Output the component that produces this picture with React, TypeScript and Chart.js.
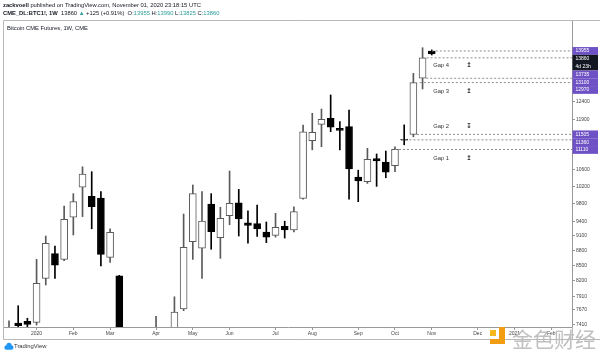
import React, { useEffect, useRef } from 'react';
import { Chart, registerables } from 'chart.js';

Chart.register(...registerables);

// Weekly candles, week of 2019-12-16 (index 0) to week of 2020-11-02 (index 46)
const OPEN = [
  7150, 7434, 7463, 7446, 8243, 8728, 8614, 9496, 10180, 9968,
  9930, 8655, 8290, 5300, 6150, 6000, 6880, 7000, 7150, 7680,
  8974, 8838, 9793, 9060, 9530, 9820, 9375, 9357, 9178, 9105,
  9300, 9222, 9922, 11340, 11772, 11937, 11665, 11713, 10420, 10310,
  10880, 10792, 10700, 11360, 11505, 13100, 13955,
];
const HIGH = [
  7470, 7738, 7517, 8614, 9093, 8885, 9747, 10030, 10673, 10552,
  10075, 9246, 8300, 6900, 6900, 7200, 7550, 7300, 7900, 9567,
  10233, 10075, 10030, 9718, 10568, 10130, 9636, 9770, 9393, 9583,
  9410, 9731, 11755, 12080, 12200, 12603, 11848, 12172, 10590, 11140,
  10995, 11070, 11180, 11760, 13250, 14060, 13990,
];
const LOW = [
  6500, 7300, 7200, 7400, 8118, 8243, 8586, 9114, 9510, 9246,
  8486, 8554, 4000, 4500, 5800, 5900, 6700, 6500, 7000, 7650,
  8614, 8243, 8818, 8634, 9333, 9093, 8941, 9082, 8955, 9070,
  9050, 9180, 9900, 11100, 11180, 11578, 11100, 9905, 9845, 10270,
  10200, 10405, 10552, 11230, 11440, 12780, 13825,
];
const CLOSE = [
  7250, 7388, 7412, 8150, 8941, 8497, 9452, 9845, 10496, 9731,
  8716, 9172, 5350, 6150, 6000, 6850, 6950, 7100, 7625, 8860,
  10030, 9415, 9186, 9474, 9810, 9460, 9320, 9243, 9070, 9280,
  9222, 9620, 11575, 11560, 11910, 11695, 11613, 10620, 10330, 10860,
  10820, 10538, 11110, 11350, 12970, 13735, 13860,
];

const X_TICK_INDEX = [3, 7, 11, 16, 20, 24, 29, 33, 38, 42, 46, 51, 55, 59];
const X_TICK_LABELS = ['2020', 'Feb', 'Mar', 'Apr', 'May', 'Jun', 'Jul', 'Aug', 'Sep', 'Oct', 'Nov', 'Dec', '2021', 'Feb'];
const Y_TICKS = [12400, 11900, 10600, 10200, 9800, 9400, 9100, 8800, 8500, 8200, 7910, 7670, 7410];

// Gap levels (horizontal dashed rays) and the candle each starts from
const GAP_LEVELS = [13955, 13735, 13100, 12970, 11505, 11360, 11110];
const GAP_LEVEL_START = [46, 45, 45.4, 44.7, 44.4, 42.7, 42];
const GAP_NAMES = ['Gap 1', 'Gap 2', 'Gap 3', 'Gap 4'];
const GAP_NAME_PRICE = [10890, 11716, 12705, 13509];
const GAP_ARROWS = ['\u21A5', '\u21A7', '\u21A5', '\u21A5'];

const PRICE_LABELS = [13955, 13860, 13735, 13100, 12970, 11505, 11360, 11110];
const CURRENT_PRICE = 13860;
const COUNTDOWN = '4d 23h';

const X_MIN = -0.544;
const X_MAX = 61.26;
const Y_MIN = 7366;
const Y_MAX = 14957;

const FONT = '"Liberation Sans", Arial, sans-serif';
const TEAL = '#2a9d9a';
const PURPLE = '#6e51c4';
const UP_LINE = '#5a5a5a';

type Run = { t: string; c?: string; b?: boolean };

function drawRuns(ctx: CanvasRenderingContext2D, x: number, y: number, runs: Run[], size: number) {
  let cx = x;
  for (const r of runs) {
    ctx.font = `${r.b ? 'bold ' : ''}${size}px ${FONT}`;
    ctx.fillStyle = r.c || '#131722';
    ctx.fillText(r.t, cx, y);
    cx += ctx.measureText(r.t).width;
  }
}

const overlayPlugin = {
  id: 'overlay',
  afterDraw(chart: any) {
    const { ctx, scales } = chart;
    const xs = scales.x;
    const ys = scales.y;
    ctx.save();

    // pane borders
    ctx.strokeStyle = '#b8b8b8';
    ctx.lineWidth = 1;
    ctx.beginPath();
    ctx.moveTo(3.5, 339.5);
    ctx.lineTo(3.5, 20.5);
    ctx.lineTo(600, 20.5);
    ctx.moveTo(3.5, 339.5);
    ctx.lineTo(600, 339.5);
    ctx.moveTo(572.5, 327);
    ctx.lineTo(572.5, 339.5);
    ctx.stroke();

    // header
    ctx.textBaseline = 'middle';
    ctx.textAlign = 'left';
    const last = OPEN.length - 1;
    const prev = CLOSE[last - 1];
    const chg = CLOSE[last] - prev;
    const pct = ((chg / prev) * 100).toFixed(2);
    drawRuns(ctx, 3, 5, [
      { t: 'zackvoell', b: true },
      { t: ' published on TradingView.com, November 01, 2020 23:18:15 UTC' },
    ], 5.8);
    drawRuns(ctx, 3, 13.5, [
      { t: 'CME_DL:BTC1!, 1W', b: true },
      { t: '  ' + CLOSE[last] + ' ' },
      { t: '\u25B2', c: TEAL },
      { t: ' +' + chg + ' (+' + pct + '%)  ' },
      { t: 'O:' },
      { t: String(OPEN[last]), c: TEAL },
      { t: ' H:' },
      { t: String(HIGH[last]), c: TEAL },
      { t: ' L:' },
      { t: String(LOW[last]), c: TEAL },
      { t: ' C:' },
      { t: String(CLOSE[last]), c: TEAL },
    ], 5.8);
    drawRuns(ctx, 7, 28.3, [{ t: 'Bitcoin CME Futures, 1W, CME' }], 5.8);

    // gap names
    for (let i = 0; i < GAP_NAMES.length; i++) {
      const py = ys.getPixelForValue(GAP_NAME_PRICE[i]);
      ctx.font = `5.8px ${FONT}`;
      ctx.fillStyle = '#333';
      ctx.textAlign = 'left';
      ctx.fillText(GAP_NAMES[i], xs.getPixelForValue(46.15), py);
      ctx.font = `bold 6.5px "DejaVu Sans", sans-serif`;
      ctx.fillStyle = '#222';
      ctx.textAlign = 'center';
      ctx.fillText(GAP_ARROWS[i], xs.getPixelForValue(50.05), py);
    }

    // price labels on the axis
    const items = PRICE_LABELS.map((v) => ({
      v,
      py: ys.getPixelForValue(v),
      lines: v === CURRENT_PRICE ? [String(v), COUNTDOWN] : [String(v)],
      bg: v === CURRENT_PRICE ? '#131722' : PURPLE,
    })).sort((a, b) => a.py - b.py);
    const H = 7.8;
    let prevBottom = -Infinity;
    ctx.textAlign = 'left';
    for (const it of items) {
      const h = H * it.lines.length;
      const top = Math.max(it.py - H / 2, prevBottom);
      ctx.fillStyle = it.bg;
      ctx.fillRect(572.5, top, 25.5, h);
      ctx.fillStyle = '#fff';
      ctx.font = `5px ${FONT}`;
      it.lines.forEach((s, k) => ctx.fillText(s, 575.5, top + H / 2 + k * H));
      prevBottom = top + h;
    }

    // TradingView logo
    ctx.fillStyle = '#2196f3';
    ctx.beginPath();
    ctx.arc(6.5, 347.5, 2.2, Math.PI * 0.5, Math.PI * 1.5);
    ctx.arc(9, 345.3, 2.6, Math.PI, Math.PI * 2);
    ctx.arc(11.3, 347.5, 2.2, Math.PI * 1.5, Math.PI * 0.5);
    ctx.closePath();
    ctx.fill();
    ctx.textAlign = 'left';
    drawRuns(ctx, 14, 346.5, [{ t: 'TradingView', c: '#333' }], 5.9);

    // watermark
    ctx.fillStyle = '#f6b81c';
    ctx.fillRect(490, 330, 6, 6);
    ctx.fillStyle = '#f29c11';
    ctx.fillRect(499, 327, 6, 17);
    ctx.fillRect(490, 339, 15, 5);
    ctx.font = `21px "Noto Sans CJK SC", sans-serif`;
    ctx.fillStyle = 'rgba(185,185,185,0.9)';
    ctx.textAlign = 'left';
    ctx.textBaseline = 'middle';
    ctx.fillText('\u91D1\u8272\u8D22\u7ECF', 512, 339);

    ctx.restore();
  },
};

export default function App() {
  const ref = useRef<HTMLCanvasElement>(null);

  useEffect(() => {
    document.body.style.margin = '0';
    const idx = OPEN.map((_, i) => i);
    const isUp = (i: number) => CLOSE[i] >= OPEN[i];

    const lineSets = GAP_LEVELS.map((lvl, k) => ({
      type: 'line' as const,
      data: [
        { x: GAP_LEVEL_START[k], y: lvl },
        { x: X_MAX, y: lvl },
      ],
      borderColor: '#8c8c8c',
      borderWidth: 1,
      borderDash: [2, 2],
      pointRadius: 0,
      clip: 0,
      order: 0,
    }));

    const chart = new Chart(ref.current as HTMLCanvasElement, {
      type: 'bar',
      data: {
        datasets: [
          {
            type: 'bar',
            data: idx.map((i) => ({ x: i, y: [LOW[i], HIGH[i]] })),
            backgroundColor: idx.map((i) => (isUp(i) ? UP_LINE : '#000')),
            borderWidth: 0,
            barThickness: 1,
            grouped: false,
            clip: 0,
            order: 2,
          } as any,
          {
            type: 'bar',
            data: idx.map((i) => ({ x: i, y: [OPEN[i], CLOSE[i]] })),
            backgroundColor: idx.map((i) => (isUp(i) ? '#fff' : '#000')),
            borderColor: idx.map((i) => (isUp(i) ? UP_LINE : '#000')),
            borderWidth: 1,
            borderSkipped: false,
            barThickness: 7,
            minBarLength: 1,
            grouped: false,
            clip: 0,
            order: 1,
          } as any,
          ...(lineSets as any[]),
        ],
      },
      options: {
        animation: false,
        responsive: false,
        devicePixelRatio: 1,
        events: [],
        layout: { padding: { left: 4, top: 21, right: 0, bottom: 0 } },
        plugins: { legend: { display: false }, tooltip: { enabled: false } },
        scales: {
          x: {
            type: 'linear',
            min: X_MIN,
            max: X_MAX,
            offset: false,
            grid: { drawOnChartArea: false, drawTicks: true, tickLength: 3, color: '#999', offset: false },
            border: { display: true, color: '#999' },
            ticks: {
              autoSkip: false,
              maxRotation: 0,
              padding: 1,
              color: '#444',
              font: { size: 5, family: FONT },
              callback: (v: any) => {
                const k = X_TICK_INDEX.indexOf(Number(v));
                return k >= 0 ? X_TICK_LABELS[k] : '';
              },
            },
            afterBuildTicks: (s: any) => {
              s.ticks = X_TICK_INDEX.map((v) => ({ value: v }));
            },
            afterFit: (s: any) => {
              s.height = 29;
            },
          },
          y: {
            type: 'logarithmic',
            position: 'right',
            min: Y_MIN,
            max: Y_MAX,
            grid: { drawOnChartArea: false, drawTicks: true, tickLength: 3, color: '#999' },
            border: { display: true, color: '#999' },
            ticks: {
              padding: 1,
              color: '#444',
              font: { size: 5, family: FONT },
              callback: (v: any) => String(v),
            },
            afterBuildTicks: (s: any) => {
              s.ticks = Y_TICKS.map((v) => ({ value: v }));
            },
            afterFit: (s: any) => {
              s.width = 28;
            },
          },
        },
      } as any,
      plugins: [overlayPlugin],
    });
    return () => chart.destroy();
  }, []);

  return (
    <div style={{ position: 'fixed', left: 0, top: 0, width: 600, height: 356, background: '#fff' }}>
      <canvas ref={ref} width={600} height={356} style={{ display: 'block', width: 600, height: 356 }} />
    </div>
  );
}
